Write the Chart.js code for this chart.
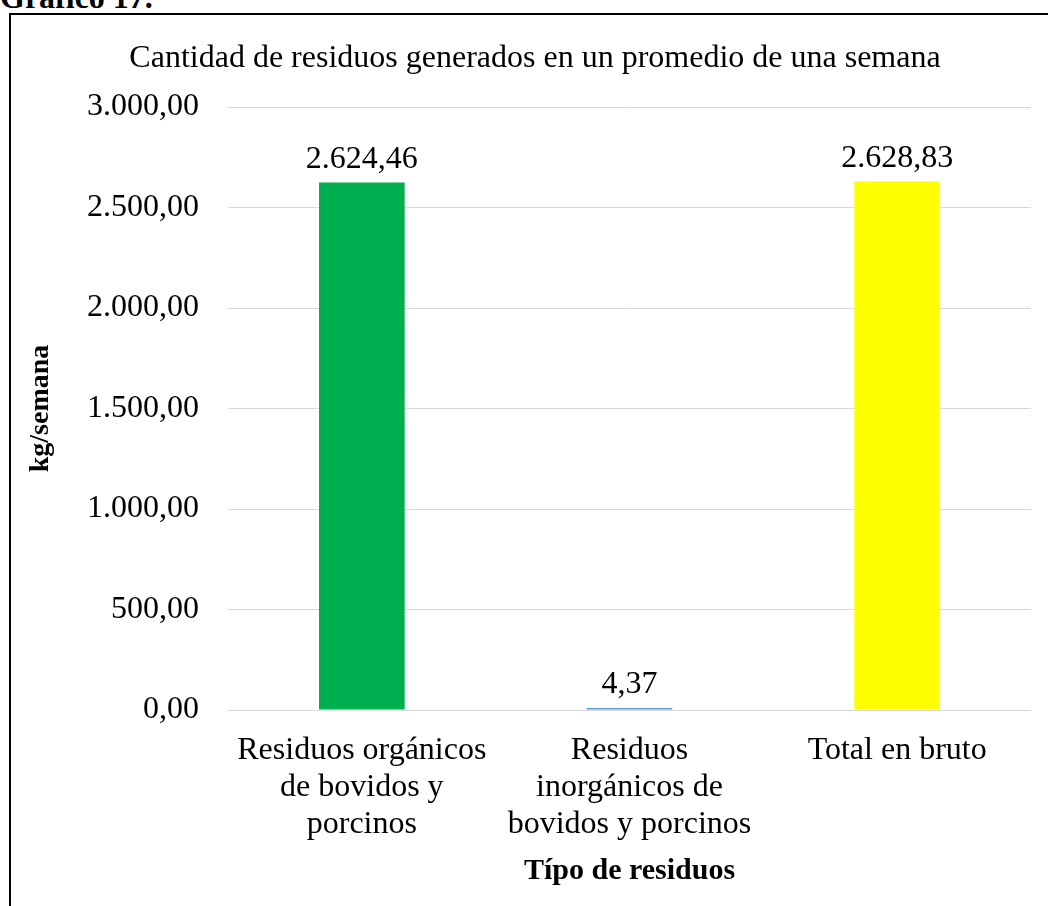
<!DOCTYPE html>
<html>
<head>
<meta charset="utf-8">
<script src="https://cdn.jsdelivr.net/npm/chart.js@4/dist/chart.umd.min.js"></script>
<style>
body{margin:0;overflow:hidden;background:#fff;}
#cap{position:absolute;left:0;top:-19px;font:bold 32px/32px "Liberation Serif",serif;color:#000;white-space:nowrap;}
#box{position:absolute;left:9px;top:13px;width:1100px;height:960px;border-left:2px solid #000;border-top:2px solid #000;}
#wrap{position:absolute;left:11px;top:15px;width:1048px;height:900px;}
</style>
</head>
<body>
<div id="cap">Gráfico 17.</div>
<div id="box"></div>
<div id="wrap"><canvas id="chart"></canvas></div>
<script>
// datos
var categorias=[
	['Residuos orgánicos','de bovidos y','porcinos'],
	['Residuos','inorgánicos de','bovidos y porcinos'],
	['Total en bruto']
];
var valores=[2624.46,4.37,2628.83];
var colores=['#00B050','#5B9BD5','#FFFF00'];
var ticksY=[0,500,1000,1500,2000,2500,3000];

function fmt(v){
	var s=v.toFixed(2).split('.');
	var ent=s[0].replace(/\B(?=(\d{3})+(?!\d))/g,'.');
	return ent+','+s[1];
}

var etiquetas={
	id:'etiquetas',
	afterDatasetsDraw:function(chart){
		var c=chart.ctx;
		var meta=chart.getDatasetMeta(0);
		c.save();
		c.font='32px "Liberation Serif"';
		c.fillStyle='#000';
		c.textAlign='center';
		c.textBaseline='middle';
		meta.data.forEach(function(bar,i){
			c.fillText(fmt(valores[i]),bar.x,bar.y-23);
		});
		c.restore();
	}
};

var ctx=document.getElementById('chart').getContext('2d');
var chart=new Chart(ctx,{
	type:'bar',
	data:{
		labels:categorias,
		datasets:[{
			data:valores,
			backgroundColor:colores,
			borderWidth:0,
			barPercentage:0.32,
			categoryPercentage:1,
			minBarLength:2
		}]
	},
	options:{
		responsive:true,
		maintainAspectRatio:false,
		animation:false,
		layout:{padding:{left:28,right:28,top:0,bottom:25.4}},
		plugins:{
			legend:{display:false},
			tooltip:{enabled:false},
			title:{
				display:true,
				text:'Cantidad de residuos generados en un promedio de una semana',
				color:'#000',
				font:{family:'Liberation Serif',size:32,weight:'normal',lineHeight:1.2},
				padding:{top:24.8,bottom:28.8}
			}
		},
		scales:{
			y:{
				min:0,
				max:3000,
				afterBuildTicks:function(s){
					s.ticks=ticksY.map(function(v){return {value:v};});
				},
				afterFit:function(s){s.width=189;},
				border:{display:false},
				grid:{color:'#d9d9d9',lineWidth:1,drawTicks:false},
				ticks:{
					color:'#000',
					padding:29,
					font:{family:'Liberation Serif',size:32},
					callback:function(v){return fmt(v);}
				},
				title:{
					display:true,
					text:'kg/semana',
					color:'#000',
					font:{family:'Liberation Serif',size:28,weight:'bold',lineHeight:1.2},
					padding:{top:-15,bottom:0}
				}
			},
			x:{
				afterFit:function(s){s.height=179.6;},
				border:{display:false},
				grid:{display:false,drawTicks:false},
				ticks:{
					color:'#000',
					padding:22.6,
					maxRotation:0,
					autoSkip:false,
					font:{family:'Liberation Serif',size:32,lineHeight:1.15}
				},
				title:{
					display:true,
					text:'Típo de residuos',
					color:'#000',
					font:{family:'Liberation Serif',size:30,weight:'bold',lineHeight:1.2},
					padding:{top:0,bottom:0}
				}
			}
		}
	},
	plugins:[etiquetas]
});
</script>
</body>
</html>
